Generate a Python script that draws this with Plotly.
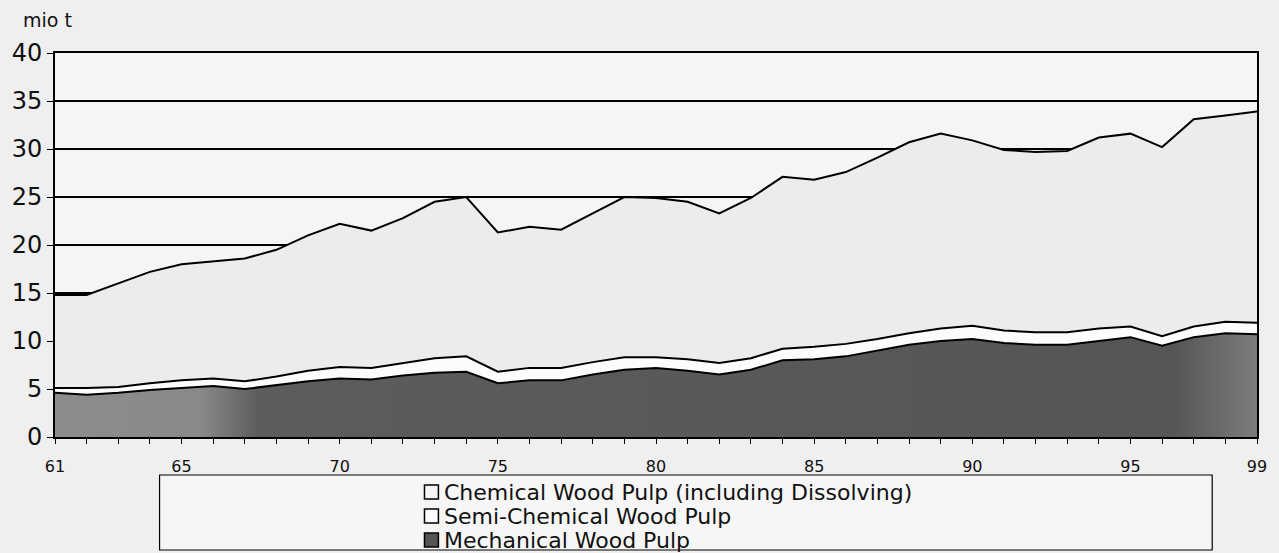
import plotly.graph_objects as go

years = list(range(61, 100))

# (mio t)
total = [14.8, 14.8, 16.0, 17.2, 18.0, 18.3, 18.6, 19.5, 21.0, 22.2,
         21.5, 22.8, 24.5, 25.0, 21.3, 21.9, 21.6, 23.3, 25.0, 24.9,
         24.5, 23.3, 24.9, 27.1, 26.8, 27.6, 29.1, 30.7, 31.6, 30.9,
         29.9, 29.7, 29.8, 31.2, 31.6, 30.2, 33.1, 33.5, 33.9]
mech_plus_semi = [5.1, 5.1, 5.2, 5.6, 5.9, 6.1, 5.8, 6.3, 6.9, 7.3,
                  7.2, 7.7, 8.2, 8.4, 6.8, 7.2, 7.2, 7.8, 8.3, 8.3,
                  8.1, 7.7, 8.2, 9.2, 9.4, 9.7, 10.2, 10.8, 11.3, 11.6,
                  11.1, 10.9, 10.9, 11.3, 11.5, 10.5, 11.5, 12.0, 11.9]
mechanical = [4.6, 4.4, 4.6, 4.9, 5.1, 5.3, 5.0, 5.4, 5.8, 6.1,
              6.0, 6.4, 6.7, 6.8, 5.6, 5.9, 5.9, 6.5, 7.0, 7.2,
              6.9, 6.5, 7.0, 8.0, 8.1, 8.4, 9.0, 9.6, 10.0, 10.2,
              9.8, 9.6, 9.6, 10.0, 10.4, 9.5, 10.4, 10.8, 10.7]

semi = [round(a - b, 2) for a, b in zip(mech_plus_semi, mechanical)]
chemical = [round(a - b, 2) for a, b in zip(total, mech_plus_semi)]

xtick_vals = [61, 65, 70, 75, 80, 85, 90, 95, 99]
xtick_text = [str(v) for v in xtick_vals]

series_names = ["Chemical Wood Pulp (including Dissolving)",
                "Semi-Chemical Wood Pulp",
                "Mechanical Wood Pulp"]

W, H = 1279, 553
L, R, T, B = 53, 19, 53, 116
pw, ph = W - L - R, H - T - B


def px_x(px):
    return (px - L) / pw


def px_y(py):
    return (H - B - py) / ph


font = "DejaVu Sans, Liberation Sans, Arial, sans-serif"

fig = go.Figure()
fig.add_trace(go.Scatter(
    x=years, y=mechanical, name=series_names[2], stackgroup="one",
    mode="lines", line=dict(color="black", width=2),
    fillcolor="#595959",
    fillgradient=dict(type="horizontal",
                      colorscale=[[0, "#8c8c8c"], [0.12, "#8a8a8a"], [0.17, "#5c5c5c"],
                                  [0.93, "#555555"], [1, "#7c7c7c"]]),
))
fig.add_trace(go.Scatter(
    x=years, y=semi, name=series_names[1], stackgroup="one",
    mode="lines", line=dict(color="black", width=2), fillcolor="#fcfcfc",
))
fig.add_trace(go.Scatter(
    x=years, y=chemical, name=series_names[0], stackgroup="one",
    mode="lines", line=dict(color="black", width=2), fillcolor="#ececec",
))

# legend frame
fig.add_shape(type="rect", xref="paper", yref="paper",
              x0=px_x(158), x1=px_x(1215), y0=px_y(550), y1=px_y(475),
              line=dict(color="black", width=1.2), fillcolor="#f6f6f6", layer="below")

swatch_fill = ["#f4f4f4", "#fcfcfc", "#555555"]
for i, name in enumerate(series_names):
    cy = 492 + i * 24
    fig.add_shape(type="rect", xref="paper", yref="paper",
                  x0=px_x(424), x1=px_x(438), y0=px_y(cy + 7), y1=px_y(cy - 7),
                  line=dict(color="black", width=1.5), fillcolor=swatch_fill[i])
    fig.add_annotation(text=name, xref="paper", yref="paper",
                       x=px_x(442), y=px_y(cy), xanchor="left", yanchor="middle",
                       showarrow=False, font=dict(size=22, color="#111"))

fig.add_annotation(text="mio t", xref="paper", yref="paper", x=px_x(19), y=px_y(20),
                   xanchor="left", yanchor="middle", showarrow=False,
                   font=dict(size=19, color="#111"))

fig.update_layout(
    width=W, height=H,
    margin=dict(l=L, r=R, t=T, b=B),
    paper_bgcolor="#efefef",
    plot_bgcolor="#f5f5f5",
    font=dict(family=font, color="#111"),
    showlegend=False,
    xaxis=dict(range=[61, 99], tickvals=xtick_vals, ticktext=xtick_text,
               showgrid=False, zeroline=False, showline=True, mirror=True,
               linecolor="black", linewidth=2, ticks="outside", ticklen=5,
               tickcolor="black", tickfont=dict(size=16), ticklabelstandoff=9,
               ticklabeloverflow="allow",
               minor=dict(tick0=61, dtick=1, ticks="outside", ticklen=5,
                          tickcolor="black", showgrid=False)),
    yaxis=dict(range=[0, 40], tickvals=[0, 5, 10, 15, 20, 25, 30, 35, 40],
               showgrid=True, gridcolor="black",
               gridwidth=1.5, zeroline=False, showline=True, mirror=True,
               linecolor="black", linewidth=2, ticks="outside", ticklen=6,
               tickcolor="black", tickfont=dict(size=24)),
)

fig.write_html("out.html", config={"displayModeBar": False},
               post_script="document.body.style.margin='0';"
                           "document.body.style.background='#efefef';")
